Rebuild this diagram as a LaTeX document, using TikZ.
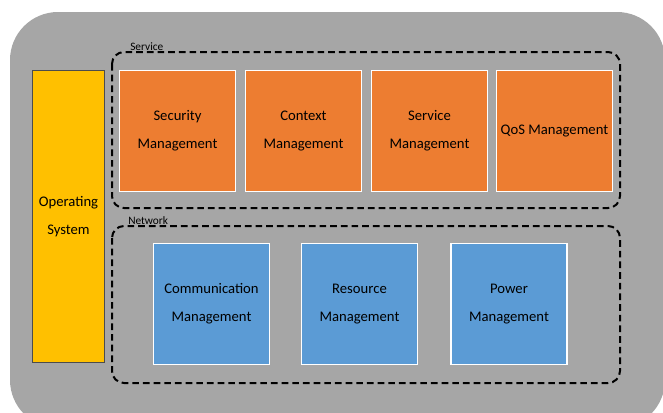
\documentclass[tikz,border=0pt]{standalone}
\usepackage{fontspec}
\setmainfont{Carlito}
\usetikzlibrary{positioning}
\definecolor{panelgray}{RGB}{166,166,166}
\definecolor{svcorange}{RGB}{237,125,49}
\definecolor{netblue}{RGB}{91,155,213}
\definecolor{osyellow}{RGB}{255,192,0}
\tikzset{
  svcbox/.style={draw=white, line width=0.9pt, fill=svcorange, minimum width=87pt, minimum height=91pt, align=center, font=\fontsize{11}{21}\selectfont, inner sep=0pt},
  netbox/.style={draw=white, line width=0.9pt, fill=netblue, minimum width=87pt, minimum height=91pt, align=center, font=\fontsize{11}{21}\selectfont, inner sep=0pt},
  groupbox/.style={draw=black, line width=1.5pt, dash pattern=on 5pt off 3pt, rounded corners=9pt},
  grouplabel/.style={anchor=south west, inner sep=0.75pt, font=\fontsize{8.5}{10}\selectfont}
}
\begin{document}
\begin{tikzpicture}[x=0.75pt,y=0.75pt,yscale=-1,xscale=1]
	\useasboundingbox (0,0) rectangle (663,412);
	
	% background panel
	\fill [panelgray, rounded corners=36pt] (10,12) rectangle (665,428);
	
	% Operating system
	\node [draw=black!70, line width=0.9pt, fill=osyellow, minimum width=54pt, minimum height=219pt, align=center, inner sep=0pt, font=\fontsize{11}{21}\selectfont] (os) at (68.5,216.5) {Operating\\System};
	
	% Service group
	\draw [groupbox] (112,52) rectangle (620,208);
	\node [grouplabel] (svclbl) at (129,52) {Service};
	\node [svcbox] (sec) at (177.5,131) {Security\\Management};
	\node [svcbox] (ctx) at (303.5,131) {Context\\Management};
	\node [svcbox] (srv) at (429.5,131) {Service\\Management};
	\node [svcbox] (qos) at (554.5,131) {QoS Management};
	
	% Network group
	\draw [groupbox] (112,226) rectangle (620,383);
	\node [grouplabel] (netlbl) at (127,226) {Network};
	\node [netbox] (com) at (211.5,304) {Communication\\Management};
	\node [netbox] (res) at (359.5,304) {Resource\\Management};
	\node [netbox] (pow) at (509,304) {Power\\Management};
	
\end{tikzpicture}
\end{document}
